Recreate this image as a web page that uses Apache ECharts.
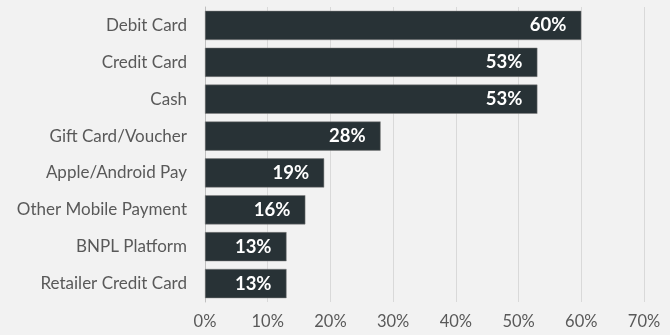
<!DOCTYPE html>
<html>
<head>
<meta charset="utf-8">
<script src="https://cdn.jsdelivr.net/npm/echarts@6/dist/echarts.min.js"></script>
<style>
  html, body { margin: 0; padding: 0; background: #f2f2f2; }
  #chart { width: 670px; height: 335px; }
</style>
</head>
<body>
<div id="chart"></div>
<script>
// categories from top to bottom
const categories = ['Debit Card', 'Credit Card', 'Cash', 'Gift Card/Voucher', 'Apple/Android Pay', 'Other Mobile Payment', 'BNPL Platform', 'Retailer Credit Card']
const values = [60, 53, 53, 28, 19, 16, 13, 13]

const chart = echarts.init(document.getElementById('chart'))
chart.setOption({
  backgroundColor: '#f2f2f2',
  animation: false,
  textStyle: { fontFamily: 'Lato' },
  grid: {
    left: 205,
    right: 26,
    top: 7,
    bottom: 33
  },
  xAxis: {
    type: 'value',
    min: 0,
    max: 70,
    interval: 10,
    axisLine: { show: false },
    axisTick: { show: false },
    axisLabel: {
      formatter: '{value}%',
      color: '#595959',
      fontSize: 16.5,
      margin: 11
    },
    splitLine: { lineStyle: { color: '#d9d9d9', width: 1 } }
  },
  yAxis: {
    type: 'category',
    inverse: true,
    data: categories,
    axisLine: { lineStyle: { color: '#bfbfbf', width: 1 } },
    axisTick: { show: false },
    axisLabel: {
      color: '#595959',
      fontSize: 17,
      margin: 18
    }
  },
  series: [{
    type: 'bar',
    data: values,
    barCategoryGap: '21%',
    itemStyle: {
      color: '#283236',
      borderColor: '#7f7f7f',
      borderWidth: 0.5
    },
    label: {
      show: true,
      position: 'insideRight',
      distance: 15,
      formatter: '{c}%',
      color: '#ffffff',
      fontWeight: 'bold',
      fontSize: 18.5
    }
  }]
})
</script>
</body>
</html>
